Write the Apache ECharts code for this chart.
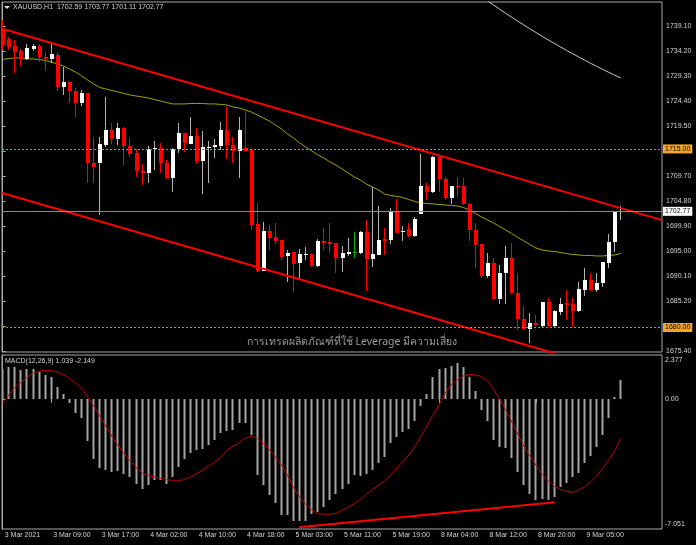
<!DOCTYPE html>
<html><head><meta charset="utf-8">
<script src="https://cdn.jsdelivr.net/npm/echarts@6/dist/echarts.min.js"></script>
<style>html,body{margin:0;padding:0;background:#000;}#c{width:696px;height:545px;}</style>
</head><body><div id="c"></div>
<script>
const symbolName = 'XAUUSD,H1';
const macdName = 'MACD(12,26,9)';
const watermark = 'การเทรดผลิตภัณฑ์ที่ใช้ Leverage มีความเสี่ยง';
const xTickIndex = [0, 8, 16, 24, 32, 40, 48, 56, 64, 72, 80, 88, 96];
const xTickLabels = ['3 Mar 2021','3 Mar 09:00','3 Mar 17:00','4 Mar 02:00','4 Mar 10:00','4 Mar 18:00','5 Mar 03:00','5 Mar 11:00','5 Mar 19:00','8 Mar 04:00','8 Mar 12:00','8 Mar 20:00','9 Mar 05:00'];
const priceTicks = [1675.40,1680.30,1685.20,1690.10,1695.00,1699.90,1704.80,1709.70,1714.60,1719.50,1724.40,1729.30,1734.20,1739.10];
const macdTicks = [2.377, 0, -7.051];

const opens = [
1738.32,1736.56,1735.18,1734.20,1732.64,1734.60,1735.18,1733.03,1732.64,1733.42,
1727.15,1728.13,1726.36,1724.01,1725.97,1712.25,1712.25,1715.78,1718.72,1716.96,
1719.11,1715.58,1714.21,1710.68,1710.29,1715.00,1715.19,1712.25,1709.31,1715.00,
1718.13,1715.98,1717.54,1712.64,1715.19,1715.39,1715.58,1718.72,1715.78,1714.60,
1715.19,1714.80,1700.30,1691.08,1698.92,1697.75,1697.16,1694.02,1694.81,1692.65,
1694.22,1694.42,1692.06,1696.96,1696.77,1696.57,1693.63,1694.42,1694.81,1694.61,
1698.73,1693.44,1694.22,1697.36,1697.16,1702.84,1698.73,1699.32,1697.94,1702.26,
1707.74,1706.57,1713.43,1709.12,1705.39,1707.74,1707.74,1704.22,1699.12,1696.38,
1690.10,1692.65,1685.60,1690.69,1693.63,1686.77,1681.68,1679.72,1680.89,1680.30,
1685.01,1680.30,1683.05,1684.81,1684.62,1683.24,1687.36,1689.32,1687.36,1688.73,
1692.65,1696.77,1702.59];
const closes = [
1735.38,1734.99,1734.01,1732.64,1734.79,1735.18,1733.03,1732.64,1733.62,1727.15,
1728.13,1726.36,1724.01,1725.97,1712.25,1711.47,1715.98,1718.72,1716.96,1719.11,
1715.58,1714.02,1710.68,1710.29,1715.00,1715.19,1712.25,1709.31,1715.00,1718.13,
1716.17,1717.54,1712.64,1715.39,1715.39,1715.78,1718.72,1715.78,1714.60,1718.72,
1714.60,1700.10,1691.08,1698.92,1697.55,1696.96,1693.83,1694.61,1692.46,1694.42,
1694.42,1692.06,1696.96,1696.57,1696.38,1693.63,1694.61,1694.81,1694.81,1698.73,
1693.44,1694.42,1697.16,1696.96,1702.84,1698.53,1698.92,1697.94,1701.28,1707.74,
1706.57,1713.43,1709.12,1705.39,1707.74,1707.55,1704.22,1699.12,1696.18,1690.10,
1692.65,1685.60,1690.69,1693.63,1686.77,1681.68,1679.72,1680.89,1680.50,1685.01,
1680.30,1683.24,1684.62,1684.42,1683.24,1687.56,1689.32,1687.36,1688.73,1692.85,
1696.77,1702.65,1702.77];
const lows = [
1734.40,1734.40,1729.89,1731.26,1732.44,1734.20,1732.05,1730.28,1731.85,1726.36,
1725.58,1724.01,1721.27,1723.42,1708.33,1708.33,1702.06,1715.39,1715.98,1715.78,
1711.86,1713.43,1709.51,1707.94,1708.33,1710.88,1710.29,1709.12,1706.57,1714.21,
1714.41,1715.98,1712.06,1706.18,1708.33,1713.23,1714.80,1713.04,1712.25,1709.31,
1714.41,1699.12,1690.89,1691.08,1695.20,1696.38,1693.24,1688.93,1686.97,1689.32,
1693.24,1691.87,1691.87,1695.20,1694.61,1690.69,1690.89,1694.02,1693.63,1694.42,
1687.16,1691.87,1694.22,1694.22,1696.38,1698.53,1696.96,1697.75,1697.75,1702.26,
1705.00,1706.37,1706.57,1705.00,1704.22,1705.59,1704.02,1696.96,1691.67,1689.71,
1689.71,1685.40,1684.62,1684.62,1686.58,1679.52,1679.52,1676.97,1680.30,1680.11,
1680.11,1680.11,1682.46,1681.48,1680.11,1683.05,1686.18,1687.16,1686.97,1687.95,
1691.67,1694.81,1701.11];
const highs = [
1740.28,1736.95,1736.36,1734.60,1735.58,1735.58,1735.58,1734.01,1735.77,1733.81,
1731.07,1728.32,1726.95,1726.56,1725.97,1717.35,1717.35,1725.19,1720.09,1720.09,
1719.31,1717.15,1715.00,1712.06,1715.58,1716.56,1716.17,1712.84,1715.19,1720.09,
1718.13,1721.27,1719.11,1718.52,1716.56,1716.96,1720.29,1723.23,1717.35,1721.27,
1722.64,1715.19,1704.41,1700.69,1700.10,1700.49,1697.16,1695.20,1694.81,1695.40,
1695.79,1694.42,1697.36,1699.51,1700.49,1696.57,1695.98,1697.55,1698.73,1698.92,
1701.08,1707.55,1703.82,1699.51,1703.43,1705.20,1699.90,1700.49,1701.67,1714.02,
1708.33,1713.62,1713.82,1709.51,1707.74,1709.51,1709.31,1704.41,1700.49,1696.38,
1694.61,1693.63,1692.26,1695.98,1696.57,1690.69,1684.22,1682.85,1682.46,1685.01,
1685.79,1683.44,1685.79,1687.36,1685.79,1688.93,1691.67,1690.69,1690.69,1692.85,
1698.34,1702.65,1703.77];
const maFast = [
1732.54,1732.73,1732.83,1732.83,1732.64,1732.64,1732.54,1732.34,1732.05,1731.66,
1731.26,1730.68,1730.09,1729.30,1728.52,1727.74,1727.05,1726.76,1726.46,1726.17,
1725.87,1725.58,1725.38,1725.19,1724.99,1724.70,1724.40,1724.11,1723.82,1723.82,
1723.82,1723.91,1723.91,1723.91,1723.82,1723.82,1723.72,1723.62,1723.23,1723.03,
1722.64,1722.25,1721.66,1721.07,1720.48,1719.70,1718.92,1717.94,1717.15,1716.17,
1715.39,1714.60,1713.82,1713.23,1712.45,1711.86,1711.08,1710.29,1709.51,1708.92,
1708.14,1707.55,1706.96,1706.18,1705.88,1705.69,1705.49,1705.10,1704.71,1704.41,
1704.31,1704.22,1704.12,1704.02,1703.92,1703.82,1703.53,1703.04,1702.35,1701.67,
1701.08,1700.49,1699.81,1699.12,1698.43,1697.65,1696.96,1696.28,1695.59,1695.20,
1695.00,1694.91,1694.71,1694.51,1694.32,1694.22,1694.12,1694.12,1694.02,1694.02,
1694.12,1694.22,1694.51];
const maSlowStart = 79;
const maSlow = [1744.86,1744.03,1743.21,1742.41,1741.60,1740.82,1740.05,1739.29,1738.55,1737.82,
1737.10,1736.39,1735.70,1735.02,1734.35,1733.70,1733.06,1732.43,1731.80,1731.20,1730.61,1730.02,1729.45,1728.90];
const macdHist = [
1.61,1.75,1.72,1.57,1.61,1.64,1.48,1.30,1.17,0.66,
0.27,-0.24,-0.75,-1.02,-2.27,-3.28,-3.77,-3.83,-3.95,-3.90,
-4.08,-4.23,-4.59,-4.86,-4.68,-4.41,-4.41,-4.59,-4.26,-3.68,
-3.28,-2.92,-2.78,-2.74,-2.51,-2.23,-1.87,-1.73,-1.69,-1.33,
-1.33,-1.96,-4.14,-4.68,-5.22,-5.64,-6.31,-6.31,-6.62,-6.62,
-6.62,-6.22,-6.13,-5.86,-5.49,-5.17,-4.91,-4.62,-4.14,-4.19,
-4.08,-3.86,-3.47,-3.14,-2.38,-2.09,-1.78,-1.65,-1.18,-0.39,
0.27,1.17,1.61,1.66,1.79,1.93,1.72,1.17,0.45,-0.60,
-1.18,-2.23,-2.63,-2.68,-3.18,-3.95,-4.68,-5.17,-5.46,-5.40,
-5.46,-5.31,-4.80,-4.55,-4.23,-4.04,-3.47,-3.10,-2.63,-1.96,
-1.06,0.12,1.039];
const macdSignal = [
-0.24,0.21,0.63,0.88,1.17,1.39,1.50,1.53,1.53,1.46,
1.30,1.12,0.88,0.58,0.12,-0.39,-0.93,-1.47,-2.02,-2.51,
-2.96,-3.36,-3.72,-4.01,-4.15,-4.23,-4.30,-4.37,-4.44,-4.44,
-4.37,-4.23,-4.04,-3.86,-3.65,-3.41,-3.18,-2.78,-2.56,-2.38,
-2.14,-2.02,-2.14,-2.41,-2.74,-3.14,-3.59,-4.14,-4.81,-5.31,
-5.71,-6.04,-6.22,-6.25,-6.25,-6.20,-6.04,-5.86,-5.68,-5.46,
-5.18,-4.91,-4.68,-4.44,-4.14,-3.77,-3.41,-3.05,-2.60,-2.05,
-1.47,-0.88,-0.33,0.30,0.76,1.03,1.24,1.32,1.30,1.21,
0.99,0.52,-0.02,-0.60,-1.24,-1.91,-2.56,-3.10,-3.59,-4.08,
-4.44,-4.73,-4.91,-5.02,-5.06,-4.95,-4.77,-4.50,-4.19,-3.77,
-3.32,-2.82,-2.149];
const upperChannel = [[0.05, 1738.52], [108.8, 1701.05]];
const lowerChannel = [[-0.12, 1706.37], [92, 1674.63]];
const macdTrend = [[48.9, -6.96], [91.1, -5.60]];
const resistanceLevel = 1715.00;
const supportLevel = 1680.00;
const last = opens.length - 1;
const bidPrice = closes[last];

const candleData = opens.map((o, i) => [i, o, closes[i], lows[i], highs[i]]);
const LBL = '"Liberation Sans", Arial, sans-serif';
const txt = '#d4d4d4';
const frame = '#a8a8a8';
const levelColor = '#d48a0c';

function renderCandle(params, api) {
  const i = api.value(0), o = api.value(1), c = api.value(2), l = api.value(3), h = api.value(4);
  const pO = api.coord([i, o]), pC = api.coord([i, c]), pL = api.coord([i, l]), pH = api.coord([i, h]);
  const cx = Math.floor(pO[0]);
  const doji = o === c;
  const up = c > o;
  const fill = doji ? '#00b400' : (up ? '#ffffff' : '#ff0000');
  const wick = doji ? '#00b400' : (up ? '#b4b4b4' : '#ff0000');
  const top = Math.round(Math.min(pO[1], pC[1]));
  const bot = Math.round(Math.max(pO[1], pC[1]));
  const children = [{type:'line', shape:{x1:cx+0.5, y1:Math.round(pH[1]), x2:cx+0.5, y2:Math.round(pL[1])}, style:{stroke:wick, lineWidth:1}}];
  if (doji) {
    children.push({type:'line', shape:{x1:cx-1, y1:top+0.5, x2:cx+3, y2:top+0.5}, style:{stroke:fill, lineWidth:1}});
  } else {
    children.push({type:'rect', shape:{x:cx-1, y:top, width:4, height:Math.max(1, bot-top)}, style:{fill:fill}});
  }
  return {type:'group', children};
}
function renderHist(params, api) {
  const i = api.value(0), v = api.value(1);
  const p0 = api.coord([i, 0]), p1 = api.coord([i, v]);
  const cx = Math.floor(p0[0]);
  const y0 = Math.round(p0[1]), y1 = Math.round(p1[1]);
  return {type:'rect', shape:{x:cx-0.5, y:Math.min(y0,y1), width:2, height:Math.max(1, Math.abs(y1-y0))}, style:{fill:'#a4a4a4'}};
}

const chart = echarts.init(document.getElementById('c'));
chart.setOption({
  backgroundColor: '#000',
  animation: false,
  grid: [
    {left:2, top:2, width:660, height:350, show:true, borderColor:frame, borderWidth:1, backgroundColor:'#000'},
    {left:2, top:355, width:660, height:174, show:true, borderColor:frame, borderWidth:1, backgroundColor:'#000'}
  ],
  xAxis: [
    {type:'value', gridIndex:0, min:-0.12, max:108.8, show:false},
    {type:'value', gridIndex:1, min:-0.12, max:108.8, splitLine:{show:false}, axisLine:{show:false},
     axisTick:{show:true, customValues:xTickIndex, length:4, lineStyle:{color:frame}},
     axisLabel:{customValues:xTickIndex, formatter:(v)=>xTickLabels[xTickIndex.indexOf(Math.round(v))] || '', align:'left', padding:[0,0,0,2], margin:3, color:txt, fontSize:7, fontFamily:LBL}}
  ],
  yAxis: [
    {type:'value', gridIndex:0, position:'right', min:1675.2, max:1743.8, splitLine:{show:false},
     axisLine:{show:true, lineStyle:{color:frame}},
     axisTick:{show:true, customValues:priceTicks, length:3, lineStyle:{color:frame}},
     axisLabel:{customValues:priceTicks, formatter:(v)=>v.toFixed(2), margin:4, color:txt, fontSize:7, fontFamily:LBL}},
    {type:'value', gridIndex:1, position:'right', min:-7.051, max:2.377, splitLine:{show:false},
     axisLine:{show:true, lineStyle:{color:frame}},
     axisTick:{show:true, customValues:[0], length:3, lineStyle:{color:frame}},
     axisLabel:{customValues:macdTicks, margin:3, color:txt, fontSize:7, fontFamily:LBL, verticalAlign:'middle',
       formatter:(v)=> v === 0 ? '0.00' : (v > 0 ? '{mx|' + v.toFixed(3) + '}' : '{mn|' + v.toFixed(3) + '}'),
       rich:{mx:{padding:[11,0,0,0], fontSize:7, color:txt, fontFamily:LBL}, mn:{padding:[0,0,10,0], fontSize:7, color:txt, fontFamily:LBL}}}}
  ],
  graphic: [
    {type:'polygon', shape:{points:[[4,6],[10,6],[7,9]]}, style:{fill:'#e0e0e0'}},
    {type:'text', left:13, top:4, style:{text: symbolName + '  ' + [opens[last], highs[last], lows[last], closes[last]].map(v=>v.toFixed(2)).join(' '), fill:txt, font:'7px ' + LBL}},
    {type:'text', left:5, top:358, style:{text: macdName + ' ' + macdHist[last].toFixed(3) + ' ' + macdSignal[last].toFixed(3), fill:txt, font:'7px ' + LBL}},
    {type:'text', x:352, y:342, style:{text: watermark, textAlign:'center', textVerticalAlign:'middle', fill:'#9c9c9c', font:'10.5px "Noto Sans", "DejaVu Sans", sans-serif'}}
  ],
  series: [
    {type:'line', xAxisIndex:0, yAxisIndex:0, data: maSlow.map((v,k)=>[maSlowStart+k, v]), showSymbol:false, lineStyle:{color:'#c8c8c8', width:1}, z:2, silent:true},
    {type:'line', xAxisIndex:0, yAxisIndex:0, data: maFast.map((v,i)=>[i, v]), showSymbol:false, lineStyle:{color:'#a3a300', width:1}, z:2, silent:true,
     markLine:{silent:true, symbol:['none','none'], animation:false,
       data:[
         {yAxis:bidPrice, lineStyle:{color:'#8a8a8a', type:'solid', width:1}, label:{show:true, position:'end', distance:1, formatter:bidPrice.toFixed(2), backgroundColor:'#ffffff', color:'#000', fontSize:7, fontFamily:LBL, padding:[1,2,1,2]}},
         {yAxis:resistanceLevel, lineStyle:{color:levelColor, type:[2,2], width:1, opacity:1}, label:{show:true, position:'end', distance:1, formatter:resistanceLevel.toFixed(2), backgroundColor:'#f6a623', color:'#000', fontSize:7, fontFamily:LBL, padding:[1,2,1,2]}},
         {yAxis:supportLevel, lineStyle:{color:levelColor, type:[2,2], width:1, opacity:1}, label:{show:true, position:'end', distance:1, formatter:supportLevel.toFixed(2), backgroundColor:'#f6a623', color:'#000', fontSize:7, fontFamily:LBL, padding:[1,2,1,2]}}
       ]}},
    {type:'custom', xAxisIndex:0, yAxisIndex:0, renderItem:renderCandle, data:candleData, encode:{x:0, y:[1,2,3,4]}, clip:true, z:3, silent:true},
    {type:'line', xAxisIndex:0, yAxisIndex:0, data:upperChannel, showSymbol:false, lineStyle:{color:'#ff0000', width:2}, z:4, silent:true},
    {type:'line', xAxisIndex:0, yAxisIndex:0, data:lowerChannel, showSymbol:false, lineStyle:{color:'#ff0000', width:2}, z:4, silent:true},
    {type:'custom', xAxisIndex:1, yAxisIndex:1, renderItem:renderHist, data:macdHist.map((v,i)=>[i,v]), encode:{x:0, y:1}, clip:true, z:2, silent:true},
    {type:'line', xAxisIndex:1, yAxisIndex:1, data:macdSignal.map((v,i)=>[i,v]), showSymbol:false, lineStyle:{color:'#c00000', width:1}, z:3, silent:true},
    {type:'line', xAxisIndex:1, yAxisIndex:1, data:macdTrend, showSymbol:false, lineStyle:{color:'#ff0000', width:2}, z:4, silent:true}
  ]
});
</script>
</body></html>
